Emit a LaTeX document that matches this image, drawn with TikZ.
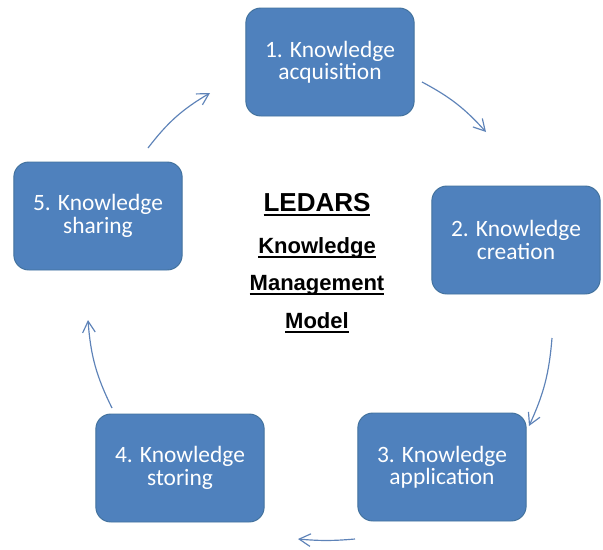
\documentclass[tikz,border=0pt]{standalone}
\usepackage{fontspec}
\setmainfont{Carlito}
\newfontfamily\titlefont{Liberation Sans}
\usetikzlibrary{arrows.meta}
\definecolor{stageblue}{HTML}{4F81BD}
\definecolor{stageedge}{HTML}{41719C}
\definecolor{arrowblue}{HTML}{5E83B8}
\newcommand{\undl}[1]{{\setbox0\hbox{#1}\rlap{\vrule height -2.4pt depth 4.2pt width \wd0}\box0}}

\begin{document}
\begin{tikzpicture}[x=0.03cm, y=-0.03cm,
  stage/.style={draw=stageedge, line width=0.8pt, fill=stageblue, rounded corners=0.45cm,
    minimum width=5.05cm, minimum height=3.24cm, align=center, text=white,
    font=\fontsize{20}{19}\selectfont},
  cyclearrow/.style={arrowblue, line width=1pt,
    -{Straight Barb[length=3.4mm, width=3.8mm, line width=1pt]}},
  modeltext/.style={anchor=base, font=\titlefont\bfseries\fontsize{18.8}{20}\selectfont}]
  \useasboundingbox (0,0) rectangle (603,550);

  % the five stages
  \node[stage] (acq) at (330,62) {1. Knowledge\\acquisition};
  \node[stage] (cre) at (516,240) {2. Knowledge\\creation};
  \node[stage] (app) at (442,467) {3. Knowledge\\application};
  \node[stage] (sto) at (180,468) {4. Knowledge\\storing};
  \node[stage] (sha) at (98,216) {5. Knowledge\\sharing};

  % centre title
  \node[modeltext, font=\titlefont\bfseries\fontsize{22.2}{24}\selectfont] (ledars) at (317,211) {\undl{LEDARS}};
  \node[modeltext] (know) at (317,253) {\undl{Knowledge}};
  \node[modeltext] (man) at (317,290) {\undl{Management}};
  \node[modeltext] (mod) at (317,328) {\undl{Model}};

  % arrows round the cycle
  \coordinate (a1s) at (422,82);  \coordinate (a1e) at (486,132);
  \coordinate (a2s) at (552,338); \coordinate (a2e) at (529,426);
  \coordinate (a3s) at (355,539); \coordinate (a3e) at (298,539);
  \coordinate (a4s) at (112,408); \coordinate (a4e) at (88,320);
  \coordinate (a5s) at (148,148); \coordinate (a5e) at (210,93);
  \draw[cyclearrow] (a1s) to[bend left=10] (a1e);
  \draw[cyclearrow] (a2s) to[bend left=10] (a2e);
  \draw[cyclearrow] (a3s) to[bend left=5] (a3e);
  \draw[cyclearrow] (a4s) to[bend left=11] (a4e);
  \draw[cyclearrow] (a5s) to[bend left=11] (a5e);
\end{tikzpicture}
\end{document}
